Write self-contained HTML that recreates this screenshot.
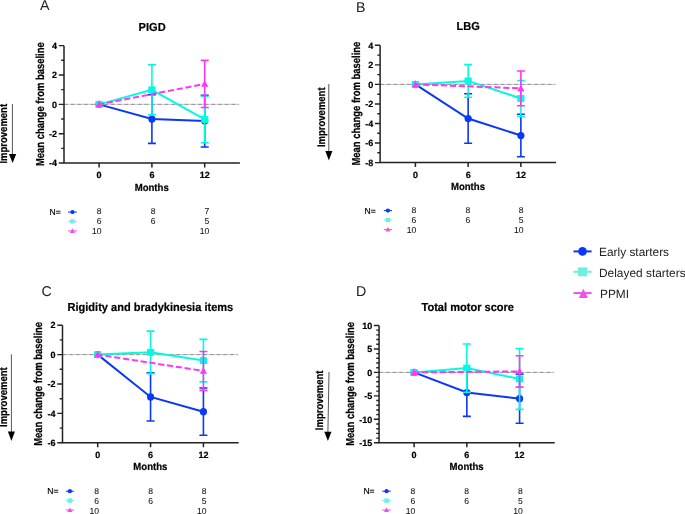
<!DOCTYPE html>
<html><head><meta charset="utf-8"><style>
html,body{margin:0;padding:0;background:#fff;}
body{width:685px;height:514px;overflow:hidden;}
svg{display:block;will-change:transform;}

text{font-family:"Liberation Sans",sans-serif;fill:#000;text-rendering:geometricPrecision;}
.tk{font-size:9px;font-weight:bold;stroke:#000;stroke-width:0.2px;}
.al{font-size:9.6px;font-weight:bold;stroke:#000;stroke-width:0.2px;}
.yl{font-size:9.45px;font-weight:bold;stroke:#000;stroke-width:0.2px;}
.ti{font-size:11.05px;font-weight:bold;stroke:#000;stroke-width:0.2px;}
.lt{font-size:14.2px;font-weight:normal;fill:#222;}
.im{font-size:9.5px;font-weight:bold;stroke:#000;stroke-width:0.2px;}
.nt{font-size:8.6px;fill:#000;stroke:#000;stroke-width:0.15px;}
.nn{font-size:8.6px;fill:#111;stroke:#111;stroke-width:0.05px;}
.lg{font-size:11.9px;fill:#222;}
</style></head><body>
<svg width="685" height="514" viewBox="0 0 685 514">
<rect width="685" height="514" fill="#fff"/>
<line x1="64" y1="104.35" x2="239.1" y2="104.35" stroke="#c2c2c2" stroke-width="0.9"/>
<line x1="64" y1="104.35" x2="239.1" y2="104.35" stroke="#8c8c8c" stroke-width="0.9" stroke-dasharray="3.8 2.9"/>
<path d="M64 45.63V163.07H239.9" fill="none" stroke="#222" stroke-width="1.5"/>
<text transform="translate(57.1 166.27) scale(1 1.0)" class="tk" text-anchor="end">-4</text>
<text transform="translate(57.1 136.91) scale(1 1.0)" class="tk" text-anchor="end">-2</text>
<text transform="translate(57.1 107.55) scale(1 1.0)" class="tk" text-anchor="end">0</text>
<text transform="translate(57.1 78.19) scale(1 1.0)" class="tk" text-anchor="end">2</text>
<text transform="translate(57.1 48.83) scale(1 1.0)" class="tk" text-anchor="end">4</text>
<path d="M58.8 163.07H64M61.2 148.39H64M58.8 133.71H64M61.2 119.03H64M58.8 104.35H64M61.2 89.67H64M58.8 74.99H64M61.2 60.31H64M58.8 45.63H64" stroke="#222" stroke-width="1.4"/>
<path d="M99.1 163.07V167.57M151.9 163.07V167.57M204.7 163.07V167.57" stroke="#222" stroke-width="1.5"/>
<text transform="translate(99.1 178.07) scale(1 1.0)" class="tk" text-anchor="middle">0</text>
<text transform="translate(151.9 178.07) scale(1 1.0)" class="tk" text-anchor="middle">6</text>
<text transform="translate(204.7 178.07) scale(1 1.0)" class="tk" text-anchor="middle">12</text>
<text transform="translate(151.7 190.57) scale(1 1.07)" class="al" text-anchor="middle">Months</text>
<text transform="translate(43.6 104.15) rotate(-90) scale(1 1.22)" class="yl" text-anchor="middle">Mean change from baseline</text>
<text transform="translate(6.9 133.75) rotate(-90) scale(1 1.15)" class="im" text-anchor="middle">Improvement</text>
<line x1="12.4" y1="104" x2="12.4" y2="155.1" stroke="#555" stroke-width="1"/>
<path d="M9 154.1H16.2L12.6 163Z" fill="#000"/>
<text transform="translate(138.6 30.6) scale(1 1.05)" class="ti">PIGD</text>
<text x="40.1" y="10.2" class="lt">A</text>
<path d="M99.1 104.35 L151.9 119.05 L204.7 121.11" fill="none" stroke="#0a38f6" stroke-width="2"/>
<path d="M151.9 94.71V143.39M147.9 94.71H155.9M147.9 143.39H155.9" stroke="#0a38f6" stroke-width="1.6" fill="none"/>
<path d="M204.7 95.3V146.93M200.7 95.3H208.7M200.7 146.93H208.7" stroke="#0a38f6" stroke-width="1.6" fill="none"/>
<circle cx="99.1" cy="104.35" r="3.6" fill="#0a38f6"/>
<circle cx="151.9" cy="119.05" r="3.6" fill="#0a38f6"/>
<circle cx="204.7" cy="121.11" r="3.6" fill="#0a38f6"/>
<path d="M99.1 104.35 L151.9 89.84 L204.7 119.49" fill="none" stroke="#00fbe2" stroke-width="2"/>
<path d="M151.9 64.77V114.92M147.9 64.77H155.9M147.9 114.92H155.9" stroke="#00fbe2" stroke-width="1.6" fill="none"/>
<path d="M204.7 96.19V142.8M200.7 96.19H208.7M200.7 142.8H208.7" stroke="#00fbe2" stroke-width="1.6" fill="none"/>
<rect x="95.5" y="100.95" width="7.2" height="6.8" fill="#00fbe2"/>
<rect x="148.3" y="86.44" width="7.2" height="6.8" fill="#00fbe2"/>
<rect x="201.1" y="116.09" width="7.2" height="6.8" fill="#00fbe2"/>
<path d="M99.1 104.35 L204.7 83.94" fill="none" stroke="#ff36f2" stroke-width="2" stroke-dasharray="6.2 2.7" stroke-dashoffset="1.1"/>
<path d="M204.7 60.34V107.54M200.7 60.34H208.7M200.7 107.54H208.7" stroke="#ff36f2" stroke-width="1.6" fill="none"/>
<path d="M99.1 100.65L102.7 107.25L95.5 107.25Z" fill="#ff36f2"/>
<path d="M204.7 80.24L208.3 86.84L201.1 86.84Z" fill="#ff36f2"/>
<text x="49.5" y="215.1" class="nt">N=</text>
<line x1="68.1" y1="212.1" x2="76.8" y2="212.1" stroke="#0a38f6" stroke-width="1.05"/>
<circle cx="72.45" cy="212.1" r="2.1" fill="#0a38f6"/>
<line x1="68.1" y1="221.4" x2="76.8" y2="221.4" stroke="#6ef0e0" stroke-width="1.05"/>
<rect x="70.25" y="219.2" width="4.4" height="4.4" fill="#6ef0e0"/>
<line x1="68.1" y1="230.9" x2="76.8" y2="230.9" stroke="#f050e8" stroke-width="1.05"/>
<path d="M72.45 228.3L74.95 232.9L69.95 232.9Z" fill="#f050e8"/>
<text x="101.5" y="214.1" class="nn" text-anchor="end">8</text>
<text x="101.5" y="223.9" class="nn" text-anchor="end">6</text>
<text x="101.5" y="234" class="nn" text-anchor="end">10</text>
<text x="155.5" y="214.1" class="nn" text-anchor="end">8</text>
<text x="155.5" y="223.9" class="nn" text-anchor="end">6</text>
<text x="209.2" y="214.1" class="nn" text-anchor="end">7</text>
<text x="209.2" y="223.9" class="nn" text-anchor="end">5</text>
<text x="209.2" y="234" class="nn" text-anchor="end">10</text>
<line x1="380.1" y1="84.4" x2="555.24" y2="84.4" stroke="#c2c2c2" stroke-width="0.9"/>
<line x1="380.1" y1="84.4" x2="555.24" y2="84.4" stroke="#8c8c8c" stroke-width="0.9" stroke-dasharray="3.8 2.9"/>
<path d="M380.1 45.3V162.6H556.04" fill="none" stroke="#222" stroke-width="1.5"/>
<text transform="translate(373.2 165.8) scale(1 1.0)" class="tk" text-anchor="end">-8</text>
<text transform="translate(373.2 146.25) scale(1 1.0)" class="tk" text-anchor="end">-6</text>
<text transform="translate(373.2 126.7) scale(1 1.0)" class="tk" text-anchor="end">-4</text>
<text transform="translate(373.2 107.15) scale(1 1.0)" class="tk" text-anchor="end">-2</text>
<text transform="translate(373.2 87.6) scale(1 1.0)" class="tk" text-anchor="end">0</text>
<text transform="translate(373.2 68.05) scale(1 1.0)" class="tk" text-anchor="end">2</text>
<text transform="translate(373.2 48.5) scale(1 1.0)" class="tk" text-anchor="end">4</text>
<path d="M374.9 162.6H380.1M377.3 152.82H380.1M374.9 143.05H380.1M377.3 133.28H380.1M374.9 123.5H380.1M377.3 113.73H380.1M374.9 103.95H380.1M377.3 94.18H380.1M374.9 84.4H380.1M377.3 74.62H380.1M374.9 64.85H380.1M377.3 55.08H380.1M374.9 45.3H380.1" stroke="#222" stroke-width="1.4"/>
<path d="M415.4 162.6V167.1M468.14 162.6V167.1M520.88 162.6V167.1" stroke="#222" stroke-width="1.5"/>
<text transform="translate(415.4 177.6) scale(1 1.0)" class="tk" text-anchor="middle">0</text>
<text transform="translate(468.14 177.6) scale(1 1.0)" class="tk" text-anchor="middle">6</text>
<text transform="translate(520.88 177.6) scale(1 1.0)" class="tk" text-anchor="middle">12</text>
<text transform="translate(467.94 190.1) scale(1 1.07)" class="al" text-anchor="middle">Months</text>
<text transform="translate(360.2 103.6) rotate(-90) scale(1 1.22)" class="yl" text-anchor="middle">Mean change from baseline</text>
<text transform="translate(324.7 117.25) rotate(-90) scale(1 1.15)" class="im" text-anchor="middle">Improvement</text>
<line x1="328.8" y1="84.1" x2="328.8" y2="152" stroke="#555" stroke-width="1"/>
<path d="M325.3 151H332.4L328.85 160.4Z" fill="#000"/>
<text transform="translate(456.6 30.25) scale(1 1.05)" class="ti">LBG</text>
<text x="356" y="11.8" class="lt">B</text>
<path d="M415.4 84.4 L468.14 118.49 L520.88 135.49" fill="none" stroke="#0a38f6" stroke-width="2"/>
<path d="M468.14 93.73V143.25M464.14 93.73H472.14M464.14 143.25H472.14" stroke="#0a38f6" stroke-width="1.6" fill="none"/>
<path d="M520.88 114.26V156.71M516.88 114.26H524.88M516.88 156.71H524.88" stroke="#0a38f6" stroke-width="1.6" fill="none"/>
<circle cx="415.4" cy="84.4" r="3.6" fill="#0a38f6"/>
<circle cx="468.14" cy="118.49" r="3.6" fill="#0a38f6"/>
<circle cx="520.88" cy="135.49" r="3.6" fill="#0a38f6"/>
<path d="M415.4 84.4 L468.14 80.91 L520.88 98.45" fill="none" stroke="#00fbe2" stroke-width="2"/>
<path d="M468.14 64.6V97.22M464.14 64.6H472.14M464.14 97.22H472.14" stroke="#00fbe2" stroke-width="1.6" fill="none"/>
<path d="M520.88 80.47V116.43M516.88 80.47H524.88M516.88 116.43H524.88" stroke="#00fbe2" stroke-width="1.6" fill="none"/>
<rect x="411.8" y="81" width="7.2" height="6.8" fill="#00fbe2"/>
<rect x="464.54" y="77.51" width="7.2" height="6.8" fill="#00fbe2"/>
<rect x="517.28" y="95.05" width="7.2" height="6.8" fill="#00fbe2"/>
<path d="M415.4 84.4 L520.88 88.33" fill="none" stroke="#ff36f2" stroke-width="2" stroke-dasharray="6.2 2.7" stroke-dashoffset="1.1"/>
<path d="M520.88 70.94V105.72M516.88 70.94H524.88M516.88 105.72H524.88" stroke="#ff36f2" stroke-width="1.6" fill="none"/>
<path d="M415.4 80.7L419 87.3L411.8 87.3Z" fill="#ff36f2"/>
<path d="M520.88 84.63L524.48 91.23L517.28 91.23Z" fill="#ff36f2"/>
<text x="364.6" y="213.6" class="nt">N=</text>
<line x1="383.8" y1="210.6" x2="392" y2="210.6" stroke="#0a38f6" stroke-width="1.05"/>
<circle cx="387.9" cy="210.6" r="2.1" fill="#0a38f6"/>
<line x1="383.8" y1="220" x2="392" y2="220" stroke="#6ef0e0" stroke-width="1.05"/>
<rect x="385.7" y="217.8" width="4.4" height="4.4" fill="#6ef0e0"/>
<line x1="383.8" y1="229.6" x2="392" y2="229.6" stroke="#f050e8" stroke-width="1.05"/>
<path d="M387.9 227L390.4 231.6L385.4 231.6Z" fill="#f050e8"/>
<text x="416.4" y="213.4" class="nn" text-anchor="end">8</text>
<text x="416.4" y="223" class="nn" text-anchor="end">6</text>
<text x="416.4" y="233.1" class="nn" text-anchor="end">10</text>
<text x="470.2" y="213.4" class="nn" text-anchor="end">8</text>
<text x="470.2" y="223" class="nn" text-anchor="end">6</text>
<text x="523.6" y="213.4" class="nn" text-anchor="end">8</text>
<text x="523.6" y="223" class="nn" text-anchor="end">5</text>
<text x="523.6" y="233.1" class="nn" text-anchor="end">10</text>
<line x1="62.5" y1="354.6" x2="237.86" y2="354.6" stroke="#c2c2c2" stroke-width="0.9"/>
<line x1="62.5" y1="354.6" x2="237.86" y2="354.6" stroke="#8c8c8c" stroke-width="0.9" stroke-dasharray="3.8 2.9"/>
<path d="M62.5 325.2V442.8H238.66" fill="none" stroke="#222" stroke-width="1.5"/>
<text transform="translate(55.6 446) scale(1 1.0)" class="tk" text-anchor="end">-6</text>
<text transform="translate(55.6 416.6) scale(1 1.0)" class="tk" text-anchor="end">-4</text>
<text transform="translate(55.6 387.2) scale(1 1.0)" class="tk" text-anchor="end">-2</text>
<text transform="translate(55.6 357.8) scale(1 1.0)" class="tk" text-anchor="end">0</text>
<text transform="translate(55.6 328.4) scale(1 1.0)" class="tk" text-anchor="end">2</text>
<path d="M57.3 442.8H62.5M59.7 428.1H62.5M57.3 413.4H62.5M59.7 398.7H62.5M57.3 384H62.5M59.7 369.3H62.5M57.3 354.6H62.5M59.7 339.9H62.5M57.3 325.2H62.5" stroke="#222" stroke-width="1.4"/>
<path d="M97.7 442.8V447.3M150.56 442.8V447.3M203.42 442.8V447.3" stroke="#222" stroke-width="1.5"/>
<text transform="translate(97.7 457.8) scale(1 1.0)" class="tk" text-anchor="middle">0</text>
<text transform="translate(150.56 457.8) scale(1 1.0)" class="tk" text-anchor="middle">6</text>
<text transform="translate(203.42 457.8) scale(1 1.0)" class="tk" text-anchor="middle">12</text>
<text transform="translate(150.36 470.3) scale(1 1.07)" class="al" text-anchor="middle">Months</text>
<text transform="translate(42.4 383.85) rotate(-90) scale(1 1.22)" class="yl" text-anchor="middle">Mean change from baseline</text>
<text transform="translate(6.9 397.15) rotate(-90) scale(1 1.15)" class="im" text-anchor="middle">Improvement</text>
<line x1="11.4" y1="354.3" x2="11.4" y2="432.4" stroke="#555" stroke-width="1"/>
<path d="M7.9 431.4H14.9L11.4 440.9Z" fill="#000"/>
<text transform="translate(67.5 310.7) scale(1 1.05)" class="ti">Rigidity and bradykinesia items</text>
<text x="41.6" y="295.5" class="lt">C</text>
<path d="M97.7 354.6 L150.56 396.91 L203.42 411.67" fill="none" stroke="#0a38f6" stroke-width="2"/>
<path d="M150.56 372.85V420.97M146.56 372.85H154.56M146.56 420.97H154.56" stroke="#0a38f6" stroke-width="1.6" fill="none"/>
<path d="M203.42 388.05V435.28M199.42 388.05H207.42M199.42 435.28H207.42" stroke="#0a38f6" stroke-width="1.6" fill="none"/>
<circle cx="97.7" cy="354.6" r="3.6" fill="#0a38f6"/>
<circle cx="150.56" cy="396.91" r="3.6" fill="#0a38f6"/>
<circle cx="203.42" cy="411.67" r="3.6" fill="#0a38f6"/>
<path d="M97.7 354.6 L150.56 352.33 L203.42 360.6" fill="none" stroke="#00fbe2" stroke-width="2"/>
<path d="M150.56 331.08V373.59M146.56 331.08H154.56M146.56 373.59H154.56" stroke="#00fbe2" stroke-width="1.6" fill="none"/>
<path d="M203.42 339.34V381.85M199.42 339.34H207.42M199.42 381.85H207.42" stroke="#00fbe2" stroke-width="1.6" fill="none"/>
<rect x="94.1" y="351.2" width="7.2" height="6.8" fill="#00fbe2"/>
<rect x="146.96" y="348.93" width="7.2" height="6.8" fill="#00fbe2"/>
<rect x="199.82" y="357.2" width="7.2" height="6.8" fill="#00fbe2"/>
<path d="M97.7 354.6 L203.42 370.93" fill="none" stroke="#ff36f2" stroke-width="2" stroke-dasharray="6.2 2.7" stroke-dashoffset="1.1"/>
<path d="M203.42 351.45V390.41M199.42 351.45H207.42M199.42 390.41H207.42" stroke="#ff36f2" stroke-width="1.6" fill="none"/>
<path d="M97.7 350.9L101.3 357.5L94.1 357.5Z" fill="#ff36f2"/>
<path d="M203.42 367.23L207.02 373.83L199.82 373.83Z" fill="#ff36f2"/>
<text x="47.2" y="493.8" class="nt">N=</text>
<line x1="65.9" y1="491.2" x2="73.9" y2="491.2" stroke="#0a38f6" stroke-width="1.05"/>
<circle cx="69.9" cy="491.2" r="2.1" fill="#0a38f6"/>
<line x1="65.9" y1="500.6" x2="73.9" y2="500.6" stroke="#6ef0e0" stroke-width="1.05"/>
<rect x="67.7" y="498.4" width="4.4" height="4.4" fill="#6ef0e0"/>
<line x1="65.9" y1="510" x2="73.9" y2="510" stroke="#f050e8" stroke-width="1.05"/>
<path d="M69.9 507.4L72.4 512L67.4 512Z" fill="#f050e8"/>
<text x="99.1" y="493.6" class="nn" text-anchor="end">8</text>
<text x="99.1" y="503.8" class="nn" text-anchor="end">6</text>
<text x="99.1" y="513.5" class="nn" text-anchor="end">10</text>
<text x="153" y="493.6" class="nn" text-anchor="end">8</text>
<text x="153" y="503.8" class="nn" text-anchor="end">6</text>
<text x="206.6" y="493.6" class="nn" text-anchor="end">8</text>
<text x="206.6" y="503.8" class="nn" text-anchor="end">5</text>
<text x="206.6" y="513.5" class="nn" text-anchor="end">10</text>
<line x1="379.05" y1="372.4" x2="553.94" y2="372.4" stroke="#c2c2c2" stroke-width="0.9"/>
<line x1="379.05" y1="372.4" x2="553.94" y2="372.4" stroke="#8c8c8c" stroke-width="0.9" stroke-dasharray="3.8 2.9"/>
<path d="M379.05 325.48V442.78H554.74" fill="none" stroke="#222" stroke-width="1.5"/>
<text transform="translate(372.15 445.98) scale(1 1.0)" class="tk" text-anchor="end">-15</text>
<text transform="translate(372.15 422.52) scale(1 1.0)" class="tk" text-anchor="end">-10</text>
<text transform="translate(372.15 399.06) scale(1 1.0)" class="tk" text-anchor="end">-5</text>
<text transform="translate(372.15 375.6) scale(1 1.0)" class="tk" text-anchor="end">0</text>
<text transform="translate(372.15 352.14) scale(1 1.0)" class="tk" text-anchor="end">5</text>
<text transform="translate(372.15 328.68) scale(1 1.0)" class="tk" text-anchor="end">10</text>
<path d="M373.85 442.78H379.05M376.25 438.09H379.05M376.25 433.4H379.05M376.25 428.7H379.05M376.25 424.01H379.05M373.85 419.32H379.05M376.25 414.63H379.05M376.25 409.94H379.05M376.25 405.24H379.05M376.25 400.55H379.05M373.85 395.86H379.05M376.25 391.17H379.05M376.25 386.48H379.05M376.25 381.78H379.05M376.25 377.09H379.05M373.85 372.4H379.05M376.25 367.71H379.05M376.25 363.02H379.05M376.25 358.32H379.05M376.25 353.63H379.05M373.85 348.94H379.05M376.25 344.25H379.05M376.25 339.56H379.05M376.25 334.86H379.05M376.25 330.17H379.05M373.85 325.48H379.05" stroke="#222" stroke-width="1.4"/>
<path d="M414.1 442.78V447.28M466.84 442.78V447.28M519.58 442.78V447.28" stroke="#222" stroke-width="1.5"/>
<text transform="translate(414.1 457.78) scale(1 1.0)" class="tk" text-anchor="middle">0</text>
<text transform="translate(466.84 457.78) scale(1 1.0)" class="tk" text-anchor="middle">6</text>
<text transform="translate(519.58 457.78) scale(1 1.0)" class="tk" text-anchor="middle">12</text>
<text transform="translate(466.64 470.28) scale(1 1.07)" class="al" text-anchor="middle">Months</text>
<text transform="translate(354 383.85) rotate(-90) scale(1 1.22)" class="yl" text-anchor="middle">Mean change from baseline</text>
<text transform="translate(323.3 400.35) rotate(-90) scale(1 1.15)" class="im" text-anchor="middle">Improvement</text>
<line x1="329" y1="372" x2="327.9" y2="432.7" stroke="#555" stroke-width="1"/>
<path d="M324.3 431.7H331.5L327.9 441.1Z" fill="#000"/>
<text transform="translate(421.5 311.2) scale(1 1.05)" class="ti">Total motor score</text>
<text x="356" y="295.7" class="lt">D</text>
<path d="M414.1 372.4 L466.84 392.51 L519.58 398.7" fill="none" stroke="#0a38f6" stroke-width="2"/>
<path d="M466.84 368.6V416.41M462.84 368.6H470.84M462.84 416.41H470.84" stroke="#0a38f6" stroke-width="1.6" fill="none"/>
<path d="M519.58 374.08V423.31M515.58 374.08H523.58M515.58 423.31H523.58" stroke="#0a38f6" stroke-width="1.6" fill="none"/>
<circle cx="414.1" cy="372.4" r="3.6" fill="#0a38f6"/>
<circle cx="466.84" cy="392.51" r="3.6" fill="#0a38f6"/>
<circle cx="519.58" cy="398.7" r="3.6" fill="#0a38f6"/>
<path d="M414.1 372.4 L466.84 368.08 L519.58 378.95" fill="none" stroke="#00fbe2" stroke-width="2"/>
<path d="M466.84 343.99V392.18M462.84 343.99H470.84M462.84 392.18H470.84" stroke="#00fbe2" stroke-width="1.6" fill="none"/>
<path d="M519.58 348.48V409.42M515.58 348.48H523.58M515.58 409.42H523.58" stroke="#00fbe2" stroke-width="1.6" fill="none"/>
<rect x="410.5" y="369" width="7.2" height="6.8" fill="#00fbe2"/>
<rect x="463.24" y="364.68" width="7.2" height="6.8" fill="#00fbe2"/>
<rect x="515.98" y="375.55" width="7.2" height="6.8" fill="#00fbe2"/>
<path d="M414.1 372.4 L519.58 371.39" fill="none" stroke="#ff36f2" stroke-width="2" stroke-dasharray="6.2 2.7" stroke-dashoffset="1.1"/>
<path d="M519.58 355.71V387.08M515.58 355.71H523.58M515.58 387.08H523.58" stroke="#ff36f2" stroke-width="1.6" fill="none"/>
<path d="M414.1 368.7L417.7 375.3L410.5 375.3Z" fill="#ff36f2"/>
<path d="M519.58 367.69L523.18 374.29L515.98 374.29Z" fill="#ff36f2"/>
<text x="363.4" y="494" class="nt">N=</text>
<line x1="382.3" y1="491.2" x2="390.8" y2="491.2" stroke="#0a38f6" stroke-width="1.05"/>
<circle cx="386.55" cy="491.2" r="2.1" fill="#0a38f6"/>
<line x1="382.3" y1="500.6" x2="390.8" y2="500.6" stroke="#6ef0e0" stroke-width="1.05"/>
<rect x="384.35" y="498.4" width="4.4" height="4.4" fill="#6ef0e0"/>
<line x1="382.3" y1="510" x2="390.8" y2="510" stroke="#f050e8" stroke-width="1.05"/>
<path d="M386.55 507.4L389.05 512L384.05 512Z" fill="#f050e8"/>
<text x="415.4" y="493.6" class="nn" text-anchor="end">8</text>
<text x="415.4" y="503.8" class="nn" text-anchor="end">6</text>
<text x="415.4" y="513.5" class="nn" text-anchor="end">10</text>
<text x="469" y="493.6" class="nn" text-anchor="end">8</text>
<text x="469" y="503.8" class="nn" text-anchor="end">6</text>
<text x="522.8" y="493.6" class="nn" text-anchor="end">8</text>
<text x="522.8" y="503.8" class="nn" text-anchor="end">5</text>
<text x="522.8" y="513.5" class="nn" text-anchor="end">10</text>
<line x1="573.5" y1="251.4" x2="591.6" y2="251.4" stroke="#0a38f6" stroke-width="2"/>
<circle cx="582.5" cy="251.4" r="4.3" fill="#0a38f6"/>
<text x="599.0" y="255.8" class="lg">Early starters</text>
<line x1="573.5" y1="271.8" x2="591.6" y2="271.8" stroke="#6ef0e0" stroke-width="2"/>
<rect x="578" y="267.40000000000003" width="9" height="8.8" fill="#6ef0e0"/>
<text x="599.0" y="276.5" class="lg">Delayed starters</text>
<line x1="573.5" y1="293.1" x2="591.6" y2="293.1" stroke="#f050e8" stroke-width="2"/>
<path d="M583.4 288.70000000000005L588 297.90000000000003L578.8 297.90000000000003Z" fill="#f050e8"/>
<text x="600.0" y="297.6" class="lg">PPMI</text>
</svg>
</body></html>
